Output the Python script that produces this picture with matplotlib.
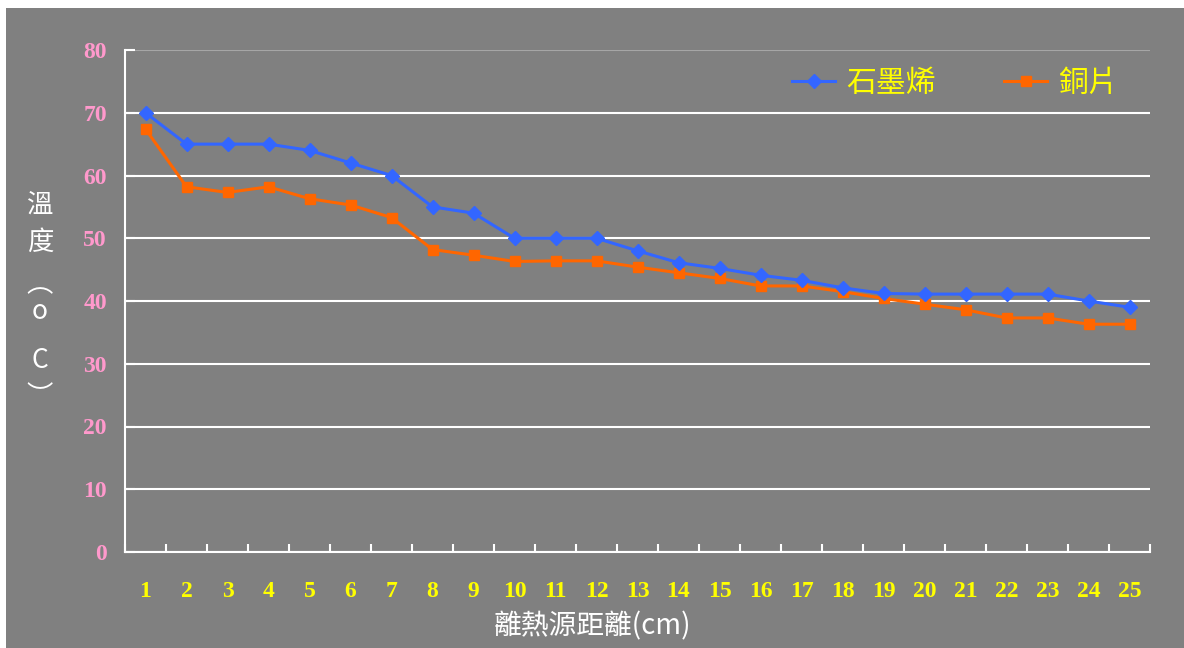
import matplotlib
matplotlib.use('Agg')
import matplotlib.pyplot as plt
from matplotlib.patches import Rectangle

# distance from heat source (cm) and measured temperature (°C)
distances = list(range(1, 26))
graphene = [70, 65, 65, 65, 64, 62, 60, 55, 54, 50, 50, 50, 48, 46.1, 45.2,
            44.1, 43.3, 42.1, 41.2, 41.1, 41.1, 41.1, 41.1, 40, 39]
copper = [67.4, 58.2, 57.3, 58.2, 56.3, 55.3, 53.3, 48.2, 47.3, 46.3, 46.4, 46.4,
          45.4, 44.5, 43.6, 42.4, 42.4, 41.5, 40.4, 39.5, 38.6, 37.3, 37.3, 36.3, 36.3]
series_names = ['石墨烯', '銅片']
ylabel_chars = ['溫', '度', '︵', 'o', 'C', '︶']
xlabel_text = '離熱源距離(cm)'

W, H = 1184, 648
bg = '#808080'
cjk = ['Noto Sans CJK TC', 'DejaVu Sans']
serif = 'Liberation Serif'

fig = plt.figure(figsize=(W / 100, H / 100), dpi=100, facecolor='white')
fig.patches.append(Rectangle((6 / W, 0), 1, 1 - 8 / H, transform=fig.transFigure,
                             facecolor=bg, edgecolor='none', zorder=-10))

ax = fig.add_axes([125 / W, 96 / H, 1025 / W, 502 / H])
ax.set_facecolor(bg)

l1, = ax.plot(distances, graphene, color='#3366FF', lw=2.2, marker='D', ms=7.5,
              label=series_names[0], zorder=4)
l2, = ax.plot(distances, copper, color='#FF6600', lw=2.2, marker='s', ms=7.5,
              label=series_names[1], zorder=3)

ax.set_xlim(0.5, 25.5)
ax.set_ylim(0, 80)

# category boundaries carry the tick marks, labels sit in the middle
ax.set_xticks([d - 0.5 for d in distances] + [distances[-1] + 0.5])
ax.set_xticklabels([])
ax.set_xticks(distances, minor=True)
ax.set_xticklabels([str(d) for d in distances], minor=True)
ax.tick_params(axis='x', which='major', direction='in', length=6, width=1.5, color='white')
ax.tick_params(axis='x', which='minor', length=0, pad=21, labelsize=17, labelcolor='#FFFF00')

ax.set_yticks(range(0, 81, 10))
ax.tick_params(axis='y', direction='in', length=7, width=1.5, color='white', pad=13,
               labelsize=17, labelcolor='#FF99CC')
for lab in ax.get_xticklabels(minor=True) + ax.get_yticklabels():
    lab.set_fontfamily(serif)
    lab.set_fontweight('bold')

ax.grid(axis='y', color='white', lw=1.5)
ax.get_ygridlines()[-1].set_color('#a6a6a6')
ax.set_axisbelow(True)

for s in ['top', 'right']:
    ax.spines[s].set_visible(False)
for s in ['left', 'bottom']:
    ax.spines[s].set_color('white')
    ax.spines[s].set_linewidth(1.5)

ax.set_xlabel(xlabel_text, family=cjk, fontsize=20, fontweight='medium', color='white',
              va='center')
ax.xaxis.set_label_coords((592 - 125) / 1025, -(626 - 552) / 502)

# vertical y label, one glyph per line
for ch, y in zip(ylabel_chars, [205, 242, 285, 312, 360, 397]):
    fig.text(40 / W, 1 - y / H, ch, family=cjk, fontsize=19, fontweight='medium',
             color='white', ha='center', va='center')

leg = ax.legend(handles=[l1, l2], loc='center left', ncol=2, frameon=False,
                bbox_to_anchor=(792 / W, 1 - 83 / H), bbox_transform=fig.transFigure,
                borderaxespad=0, borderpad=0, handlelength=1.45, handletextpad=0.35,
                columnspacing=2.3,
                prop={'family': cjk, 'size': 21.5, 'weight': 'medium'})
for t in leg.get_texts():
    t.set_color('#FFFF00')

fig.savefig('out.png', dpi=100, facecolor=fig.get_facecolor())
